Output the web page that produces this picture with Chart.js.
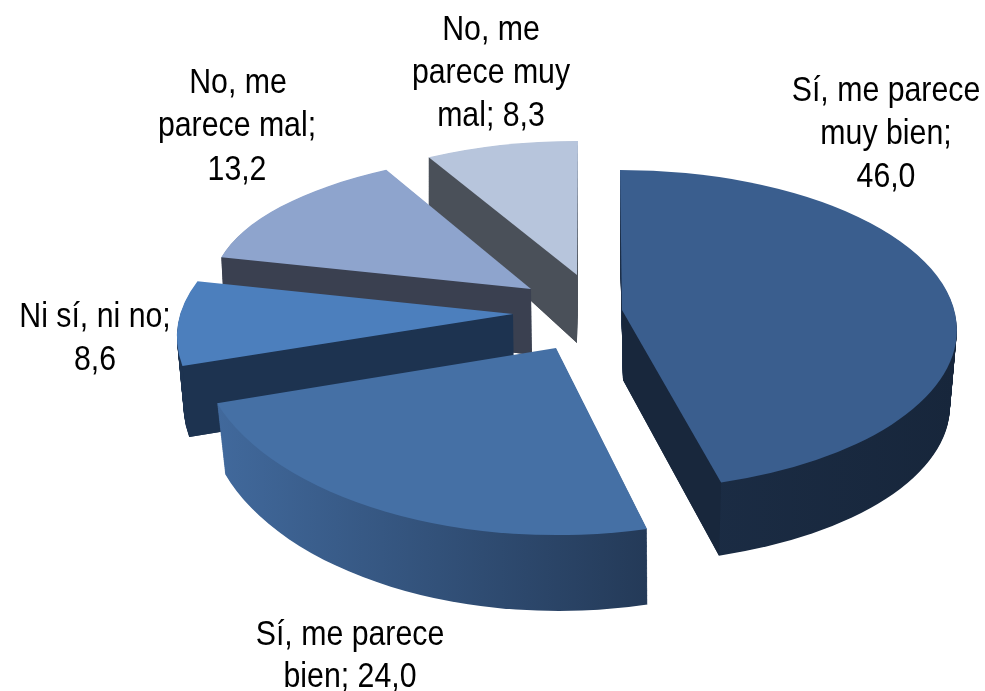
<!DOCTYPE html>
<html>
<head>
<meta charset="utf-8">
<title>Pie</title>
<script src="https://cdn.jsdelivr.net/npm/chart.js@4/dist/chart.umd.js"></script>
<style>
    html, body { margin: 0; background: #fff; }
    canvas { display: block; }
</style>
</head>
<body>
<canvas id="graph" width="985" height="691"></canvas>
<script>
const categories = ["Sí, me parece muy bien", "Sí, me parece bien", "Ni sí, ni no", "No, me parece mal", "No, me parece muy mal"];
const values = [46.0, 24.0, 8.6, 13.2, 8.3];
const labelLines = [
    ["Sí, me parece", "muy bien;", "46,0"],
    ["Sí, me parece", "bien; 24,0"],
    ["Ni sí, ni no;", "8,6"],
    ["No, me", "parece mal;", "13,2"],
    ["No, me", "parece muy", "mal; 8,3"]
];
const topColors = ["#3a5e8e", "#4570a5", "#4c7fbd", "#8ea4cd", "#b7c5dc"];
const cutColors = ["#18273c", "#243a58", "#1d3350", "#3a4050", "#4a5059"];
const rimColors = [["#1c2e47", "#17263b"], ["#41699c", "#243a58"], ["#1d3350", "#1d3350"], ["#3a4050", "#3a4050"], ["#4a5059", "#4a5059"]];

// how each exploded slice sits in the fake 3D view, offsets from the pie centre, radii as a share of the pie radius
// cut says which straight side faces the viewer
const poses = [
    {top: [127.5, -15.5, .975, .463], base: [127.5, 60.5, .955, .454], apex: [129.5, -35.5], apexBase: [130.5, 34.5], fix: [0, -2.9], cut: "end"},
    {top: [64.5, -2.5, 1.036, .556], base: [66.5, 65.5, 1.018, .579], apex: [63.5, 2.5], apexBase: [63.5, 78.5], fix: [0, 0], cut: null},
    {top: [24.5, -8.5, .984, .472], base: [26.5, 62.5, .970, .472], apex: [20.5, -31.5], apexBase: [21.5, 38.5], fix: [8, 7.3], cut: "start"},
    {top: [65.5, -58.5, .999, .391], base: [65.5, -.5, .990, .391], apex: [38.5, -56.5], apexBase: [39.5, 9.5], fix: [0, 0], cut: "start"},
    {top: [85.5, -81.5, .868, .356], base: [85.5, -31.5, .868, .356], apex: [84.5, -70.5], apexBase: [84.5, -2.5], fix: [0, 0], cut: "start"}
];
// centre x and baseline y of the label lines
const labelSpots = [
    [[886, 101], [886, 144], [886, 187]],
    [[350, 645], [350, 687]],
    [[95, 327], [95, 370]],
    [[238, 93], [237, 136], [237, 180]],
    [[491, 40], [491, 83], [491, 126]]
];

const rad = deg => deg * Math.PI / 180;

function ellipsePoint(arc, shape, angle) {
    return [
        arc.x + shape[0] + arc.outerRadius * shape[2] * Math.cos(angle),
        arc.y + shape[1] + arc.outerRadius * shape[3] * Math.sin(angle)
    ];
}

function sector(ctx, arc, shape, apex, start, end, color) {
    ctx.beginPath();
    ctx.moveTo(arc.x + apex[0], arc.y + apex[1]);
    ctx.ellipse(arc.x + shape[0], arc.y + shape[1], arc.outerRadius * shape[2], arc.outerRadius * shape[3], 0, start, end);
    ctx.closePath();
    ctx.fillStyle = color;
    ctx.fill();
}

function drawSlice(ctx, arc, i) {
    const pose = poses[i];
    const start = arc.startAngle + rad(pose.fix[0]);
    const end = arc.endAngle + rad(pose.fix[1]);

    const xs = [];
    for (let k = 0; k <= 40; k++) xs.push(ellipsePoint(arc, pose.top, start + (end - start) * k / 40)[0]);
    const rim = ctx.createLinearGradient(Math.min(...xs), 0, Math.max(...xs), 0);
    rim.addColorStop(0, rimColors[i][0]);
    rim.addColorStop(1, rimColors[i][1]);

    // body, stacked from the base up to the top
    const steps = 80;
    for (let k = 0; k < steps; k++) {
        const s = k / steps;
        const shape = pose.base.map((b, n) => b + (pose.top[n] - b) * s);
        const apex = pose.apexBase.map((b, n) => b + (pose.apex[n] - b) * s);
        sector(ctx, arc, shape, apex, start, end, rim);
    }

    // the straight side facing the viewer
    if (pose.cut) {
        const angle = pose.cut === "start" ? start : end;
        const pts = [
            [arc.x + pose.apex[0], arc.y + pose.apex[1]],
            ellipsePoint(arc, pose.top, angle),
            ellipsePoint(arc, pose.base, angle),
            [arc.x + pose.apexBase[0], arc.y + pose.apexBase[1]]
        ];
        ctx.beginPath();
        pts.forEach(([x, y], n) => n ? ctx.lineTo(x, y) : ctx.moveTo(x, y));
        ctx.closePath();
        ctx.fillStyle = cutColors[i];
        ctx.fill();
    }

    sector(ctx, arc, pose.top, pose.apex, start, end, arc.options.backgroundColor);
}

const pie3d = {
    id: "pie3d",
    beforeDatasetsDraw(chart) {
        const {ctx} = chart;
        const arcs = chart.getDatasetMeta(0).data;
        for (let i = arcs.length - 1; i >= 0; i--) drawSlice(ctx, arcs[i], i);
        return false;
    },
    afterDraw(chart) {
        const {ctx} = chart;
        ctx.font = '35px "Liberation Sans", Arial, sans-serif';
        ctx.fillStyle = "#000";
        ctx.textAlign = "center";
        ctx.textBaseline = "alphabetic";
        labelLines.forEach((lines, i) => {
            lines.forEach((line, j) => {
                ctx.save();
                ctx.translate(labelSpots[i][j][0], labelSpots[i][j][1]);
                ctx.scale(.865, 1); // the original font is a narrow one
                ctx.fillText(line, 0, 0);
                ctx.restore();
            });
        });
    }
};

new Chart(document.querySelector("#graph"), {
    type: "pie",
    data: {
        labels: categories,
        datasets: [{data: values, backgroundColor: topColors, borderWidth: 0}]
    },
    options: {
        responsive: false,
        animation: false,
        layout: {padding: 0},
        plugins: {legend: {display: false}, tooltip: {enabled: false}}
    },
    plugins: [pie3d]
});
</script>
</body>
</html>
